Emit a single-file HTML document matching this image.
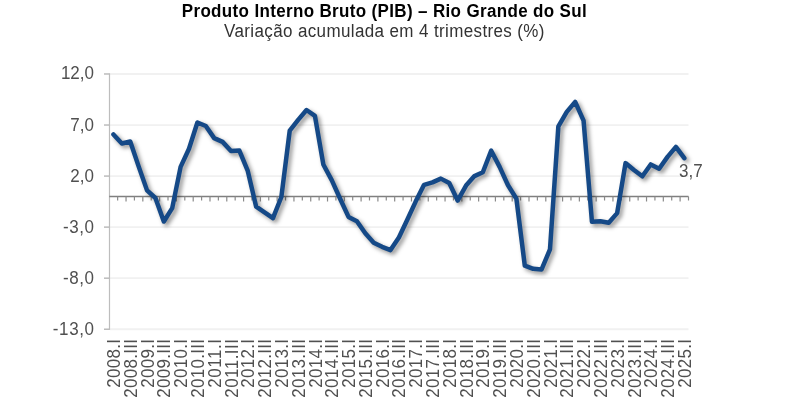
<!DOCTYPE html>
<html><head><meta charset="utf-8"><style>
html,body{margin:0;padding:0;background:#fff;width:800px;height:400px;overflow:hidden}
svg{position:absolute;left:0;top:0;display:block}
text{font-family:"Liberation Sans",sans-serif;font-size:17px;fill:#505050}
.t1{font-weight:bold;fill:#000}
.t2{fill:#333}
</style></head><body>
<svg width="800" height="400" viewBox="0 0 800 400">
<defs><filter id="blur" x="-10%" y="-10%" width="120%" height="120%"><feGaussianBlur stdDeviation="1.9"/></filter></defs>
<line x1="110.05" y1="73.98" x2="688.50" y2="73.98" stroke="#f1f1f1" stroke-width="1.8"/>
<line x1="104" y1="73.98" x2="109.85" y2="73.98" stroke="#bcbcbc" stroke-width="1.5"/>
<line x1="110.05" y1="125.03" x2="688.50" y2="125.03" stroke="#f1f1f1" stroke-width="1.8"/>
<line x1="104" y1="125.03" x2="109.85" y2="125.03" stroke="#bcbcbc" stroke-width="1.5"/>
<line x1="110.05" y1="176.08" x2="688.50" y2="176.08" stroke="#f1f1f1" stroke-width="1.8"/>
<line x1="104" y1="176.08" x2="109.85" y2="176.08" stroke="#bcbcbc" stroke-width="1.5"/>
<line x1="110.05" y1="227.13" x2="688.50" y2="227.13" stroke="#f1f1f1" stroke-width="1.8"/>
<line x1="104" y1="227.13" x2="109.85" y2="227.13" stroke="#bcbcbc" stroke-width="1.5"/>
<line x1="110.05" y1="278.18" x2="688.50" y2="278.18" stroke="#f1f1f1" stroke-width="1.8"/>
<line x1="104" y1="278.18" x2="109.85" y2="278.18" stroke="#bcbcbc" stroke-width="1.5"/>
<line x1="110.05" y1="329.23" x2="688.50" y2="329.23" stroke="#f1f1f1" stroke-width="1.8"/>
<line x1="104" y1="329.23" x2="109.85" y2="329.23" stroke="#bcbcbc" stroke-width="1.5"/>
<line x1="109.50" y1="73.48" x2="109.50" y2="329.73" stroke="#bdbdbd" stroke-width="1.2"/>
<line x1="109.25" y1="196.50" x2="688.50" y2="196.50" stroke="#7f7f7f" stroke-width="1.4"/>
<line x1="117.64" y1="196.50" x2="117.64" y2="200.50" stroke="#8a8a8a" stroke-width="1.2"/>
<line x1="126.04" y1="196.50" x2="126.04" y2="201.50" stroke="#8a8a8a" stroke-width="1.2"/>
<line x1="134.43" y1="196.50" x2="134.43" y2="200.50" stroke="#8a8a8a" stroke-width="1.2"/>
<line x1="142.83" y1="196.50" x2="142.83" y2="201.50" stroke="#8a8a8a" stroke-width="1.2"/>
<line x1="151.22" y1="196.50" x2="151.22" y2="200.50" stroke="#8a8a8a" stroke-width="1.2"/>
<line x1="159.62" y1="196.50" x2="159.62" y2="201.50" stroke="#8a8a8a" stroke-width="1.2"/>
<line x1="168.01" y1="196.50" x2="168.01" y2="200.50" stroke="#8a8a8a" stroke-width="1.2"/>
<line x1="176.41" y1="196.50" x2="176.41" y2="201.50" stroke="#8a8a8a" stroke-width="1.2"/>
<line x1="184.80" y1="196.50" x2="184.80" y2="200.50" stroke="#8a8a8a" stroke-width="1.2"/>
<line x1="193.20" y1="196.50" x2="193.20" y2="201.50" stroke="#8a8a8a" stroke-width="1.2"/>
<line x1="201.59" y1="196.50" x2="201.59" y2="200.50" stroke="#8a8a8a" stroke-width="1.2"/>
<line x1="209.99" y1="196.50" x2="209.99" y2="201.50" stroke="#8a8a8a" stroke-width="1.2"/>
<line x1="218.38" y1="196.50" x2="218.38" y2="200.50" stroke="#8a8a8a" stroke-width="1.2"/>
<line x1="226.78" y1="196.50" x2="226.78" y2="201.50" stroke="#8a8a8a" stroke-width="1.2"/>
<line x1="235.17" y1="196.50" x2="235.17" y2="200.50" stroke="#8a8a8a" stroke-width="1.2"/>
<line x1="243.57" y1="196.50" x2="243.57" y2="201.50" stroke="#8a8a8a" stroke-width="1.2"/>
<line x1="251.96" y1="196.50" x2="251.96" y2="200.50" stroke="#8a8a8a" stroke-width="1.2"/>
<line x1="260.36" y1="196.50" x2="260.36" y2="201.50" stroke="#8a8a8a" stroke-width="1.2"/>
<line x1="268.75" y1="196.50" x2="268.75" y2="200.50" stroke="#8a8a8a" stroke-width="1.2"/>
<line x1="277.15" y1="196.50" x2="277.15" y2="201.50" stroke="#8a8a8a" stroke-width="1.2"/>
<line x1="285.54" y1="196.50" x2="285.54" y2="200.50" stroke="#8a8a8a" stroke-width="1.2"/>
<line x1="293.94" y1="196.50" x2="293.94" y2="201.50" stroke="#8a8a8a" stroke-width="1.2"/>
<line x1="302.33" y1="196.50" x2="302.33" y2="200.50" stroke="#8a8a8a" stroke-width="1.2"/>
<line x1="310.73" y1="196.50" x2="310.73" y2="201.50" stroke="#8a8a8a" stroke-width="1.2"/>
<line x1="319.12" y1="196.50" x2="319.12" y2="200.50" stroke="#8a8a8a" stroke-width="1.2"/>
<line x1="327.52" y1="196.50" x2="327.52" y2="201.50" stroke="#8a8a8a" stroke-width="1.2"/>
<line x1="335.91" y1="196.50" x2="335.91" y2="200.50" stroke="#8a8a8a" stroke-width="1.2"/>
<line x1="344.31" y1="196.50" x2="344.31" y2="201.50" stroke="#8a8a8a" stroke-width="1.2"/>
<line x1="352.70" y1="196.50" x2="352.70" y2="200.50" stroke="#8a8a8a" stroke-width="1.2"/>
<line x1="361.10" y1="196.50" x2="361.10" y2="201.50" stroke="#8a8a8a" stroke-width="1.2"/>
<line x1="369.49" y1="196.50" x2="369.49" y2="200.50" stroke="#8a8a8a" stroke-width="1.2"/>
<line x1="377.89" y1="196.50" x2="377.89" y2="201.50" stroke="#8a8a8a" stroke-width="1.2"/>
<line x1="386.28" y1="196.50" x2="386.28" y2="200.50" stroke="#8a8a8a" stroke-width="1.2"/>
<line x1="394.68" y1="196.50" x2="394.68" y2="201.50" stroke="#8a8a8a" stroke-width="1.2"/>
<line x1="403.07" y1="196.50" x2="403.07" y2="200.50" stroke="#8a8a8a" stroke-width="1.2"/>
<line x1="411.47" y1="196.50" x2="411.47" y2="201.50" stroke="#8a8a8a" stroke-width="1.2"/>
<line x1="419.86" y1="196.50" x2="419.86" y2="200.50" stroke="#8a8a8a" stroke-width="1.2"/>
<line x1="428.26" y1="196.50" x2="428.26" y2="201.50" stroke="#8a8a8a" stroke-width="1.2"/>
<line x1="436.65" y1="196.50" x2="436.65" y2="200.50" stroke="#8a8a8a" stroke-width="1.2"/>
<line x1="445.05" y1="196.50" x2="445.05" y2="201.50" stroke="#8a8a8a" stroke-width="1.2"/>
<line x1="453.44" y1="196.50" x2="453.44" y2="200.50" stroke="#8a8a8a" stroke-width="1.2"/>
<line x1="461.84" y1="196.50" x2="461.84" y2="201.50" stroke="#8a8a8a" stroke-width="1.2"/>
<line x1="470.23" y1="196.50" x2="470.23" y2="200.50" stroke="#8a8a8a" stroke-width="1.2"/>
<line x1="478.63" y1="196.50" x2="478.63" y2="201.50" stroke="#8a8a8a" stroke-width="1.2"/>
<line x1="487.02" y1="196.50" x2="487.02" y2="200.50" stroke="#8a8a8a" stroke-width="1.2"/>
<line x1="495.42" y1="196.50" x2="495.42" y2="201.50" stroke="#8a8a8a" stroke-width="1.2"/>
<line x1="503.81" y1="196.50" x2="503.81" y2="200.50" stroke="#8a8a8a" stroke-width="1.2"/>
<line x1="512.21" y1="196.50" x2="512.21" y2="201.50" stroke="#8a8a8a" stroke-width="1.2"/>
<line x1="520.60" y1="196.50" x2="520.60" y2="200.50" stroke="#8a8a8a" stroke-width="1.2"/>
<line x1="529.00" y1="196.50" x2="529.00" y2="201.50" stroke="#8a8a8a" stroke-width="1.2"/>
<line x1="537.39" y1="196.50" x2="537.39" y2="200.50" stroke="#8a8a8a" stroke-width="1.2"/>
<line x1="545.79" y1="196.50" x2="545.79" y2="201.50" stroke="#8a8a8a" stroke-width="1.2"/>
<line x1="554.18" y1="196.50" x2="554.18" y2="200.50" stroke="#8a8a8a" stroke-width="1.2"/>
<line x1="562.58" y1="196.50" x2="562.58" y2="201.50" stroke="#8a8a8a" stroke-width="1.2"/>
<line x1="570.97" y1="196.50" x2="570.97" y2="200.50" stroke="#8a8a8a" stroke-width="1.2"/>
<line x1="579.37" y1="196.50" x2="579.37" y2="201.50" stroke="#8a8a8a" stroke-width="1.2"/>
<line x1="587.76" y1="196.50" x2="587.76" y2="200.50" stroke="#8a8a8a" stroke-width="1.2"/>
<line x1="596.16" y1="196.50" x2="596.16" y2="201.50" stroke="#8a8a8a" stroke-width="1.2"/>
<line x1="604.55" y1="196.50" x2="604.55" y2="200.50" stroke="#8a8a8a" stroke-width="1.2"/>
<line x1="612.95" y1="196.50" x2="612.95" y2="201.50" stroke="#8a8a8a" stroke-width="1.2"/>
<line x1="621.34" y1="196.50" x2="621.34" y2="200.50" stroke="#8a8a8a" stroke-width="1.2"/>
<line x1="629.74" y1="196.50" x2="629.74" y2="201.50" stroke="#8a8a8a" stroke-width="1.2"/>
<line x1="638.13" y1="196.50" x2="638.13" y2="200.50" stroke="#8a8a8a" stroke-width="1.2"/>
<line x1="646.53" y1="196.50" x2="646.53" y2="201.50" stroke="#8a8a8a" stroke-width="1.2"/>
<line x1="654.92" y1="196.50" x2="654.92" y2="200.50" stroke="#8a8a8a" stroke-width="1.2"/>
<line x1="663.32" y1="196.50" x2="663.32" y2="201.50" stroke="#8a8a8a" stroke-width="1.2"/>
<line x1="671.71" y1="196.50" x2="671.71" y2="200.50" stroke="#8a8a8a" stroke-width="1.2"/>
<line x1="680.11" y1="196.50" x2="680.11" y2="201.50" stroke="#8a8a8a" stroke-width="1.2"/>
<line x1="688.50" y1="196.50" x2="688.50" y2="200.50" stroke="#8a8a8a" stroke-width="1.2"/>
<polyline points="113.45,134.42 121.84,143.51 130.24,141.47 138.63,166.38 147.03,190.37 155.42,198.03 163.82,221.51 172.21,208.14 180.61,166.89 189.00,148.72 197.40,122.48 205.79,126.05 214.19,138.10 222.58,141.88 230.98,151.07 239.37,150.56 247.77,170.97 256.16,206.71 264.56,212.33 272.95,218.15 281.35,197.01 289.74,130.65 298.14,119.92 306.53,110.02 314.93,115.84 323.32,164.44 331.72,180.16 340.11,198.75 348.51,216.92 356.90,221.21 365.30,233.26 373.69,242.75 382.09,246.84 390.48,250.10 398.88,237.54 407.27,219.78 415.66,201.60 424.06,184.86 432.45,182.41 440.85,178.63 449.24,183.02 457.64,200.58 466.03,185.58 474.43,176.08 482.82,172.30 491.22,150.66 499.61,166.89 508.01,185.27 516.40,198.75 524.80,265.72 533.19,268.79 541.59,269.40 549.98,249.39 558.38,126.26 566.77,111.86 575.17,101.85 583.56,120.64 591.96,221.82 600.35,221.21 608.75,222.74 617.14,213.14 625.54,163.11 633.93,169.95 642.33,176.28 650.72,164.44 659.12,168.73 667.51,156.89 675.91,146.88 684.30,158.11" fill="none" stroke="#000" stroke-opacity="0.42" stroke-width="4.5" stroke-linejoin="round" stroke-linecap="round" filter="url(#blur)" transform="translate(2.6,2.6)"/>
<polyline points="113.45,134.42 121.84,143.51 130.24,141.47 138.63,166.38 147.03,190.37 155.42,198.03 163.82,221.51 172.21,208.14 180.61,166.89 189.00,148.72 197.40,122.48 205.79,126.05 214.19,138.10 222.58,141.88 230.98,151.07 239.37,150.56 247.77,170.97 256.16,206.71 264.56,212.33 272.95,218.15 281.35,197.01 289.74,130.65 298.14,119.92 306.53,110.02 314.93,115.84 323.32,164.44 331.72,180.16 340.11,198.75 348.51,216.92 356.90,221.21 365.30,233.26 373.69,242.75 382.09,246.84 390.48,250.10 398.88,237.54 407.27,219.78 415.66,201.60 424.06,184.86 432.45,182.41 440.85,178.63 449.24,183.02 457.64,200.58 466.03,185.58 474.43,176.08 482.82,172.30 491.22,150.66 499.61,166.89 508.01,185.27 516.40,198.75 524.80,265.72 533.19,268.79 541.59,269.40 549.98,249.39 558.38,126.26 566.77,111.86 575.17,101.85 583.56,120.64 591.96,221.82 600.35,221.21 608.75,222.74 617.14,213.14 625.54,163.11 633.93,169.95 642.33,176.28 650.72,164.44 659.12,168.73 667.51,156.89 675.91,146.88 684.30,158.11" fill="none" stroke="#154987" stroke-width="4.5" stroke-linejoin="round" stroke-linecap="round"/>
<g style="opacity:0.999"><text class="t1" transform="translate(181.75,16.5) scale(1,1.060)" textLength="405">Produto Interno Bruto (PIB) – Rio Grande do Sul</text>
<text class="t2" transform="translate(224,36.5) scale(1,1.060)" textLength="320.5">Variação acumulada em 4 trimestres (%)</text>
<text transform="translate(94,79.48) scale(1,1.030)" text-anchor="end">12,0</text>
<text transform="translate(94,130.53) scale(1,1.030)" text-anchor="end">7,0</text>
<text transform="translate(94,181.58) scale(1,1.030)" text-anchor="end">2,0</text>
<text transform="translate(94,232.63) scale(1,1.030)" text-anchor="end" textLength="31.00">-3,0</text>
<text transform="translate(94,283.68) scale(1,1.030)" text-anchor="end" textLength="31.00">-8,0</text>
<text transform="translate(94,334.73) scale(1,1.030)" text-anchor="end" textLength="41.20">-13,0</text>
<text transform="translate(120.05,339) rotate(-90) scale(1,1.030)" text-anchor="end" textLength="48.80">2008.I</text>
<text transform="translate(136.84,339) rotate(-90) scale(1,1.030)" text-anchor="end" textLength="58.80">2008.III</text>
<text transform="translate(153.63,339) rotate(-90) scale(1,1.030)" text-anchor="end" textLength="48.80">2009.I</text>
<text transform="translate(170.42,339) rotate(-90) scale(1,1.030)" text-anchor="end" textLength="58.80">2009.III</text>
<text transform="translate(187.21,339) rotate(-90) scale(1,1.030)" text-anchor="end" textLength="48.80">2010.I</text>
<text transform="translate(204.00,339) rotate(-90) scale(1,1.030)" text-anchor="end" textLength="58.80">2010.III</text>
<text transform="translate(220.79,339) rotate(-90) scale(1,1.030)" text-anchor="end" textLength="48.80">2011.I</text>
<text transform="translate(237.58,339) rotate(-90) scale(1,1.030)" text-anchor="end" textLength="58.80">2011.III</text>
<text transform="translate(254.37,339) rotate(-90) scale(1,1.030)" text-anchor="end" textLength="48.80">2012.I</text>
<text transform="translate(271.16,339) rotate(-90) scale(1,1.030)" text-anchor="end" textLength="58.80">2012.III</text>
<text transform="translate(287.95,339) rotate(-90) scale(1,1.030)" text-anchor="end" textLength="48.80">2013.I</text>
<text transform="translate(304.74,339) rotate(-90) scale(1,1.030)" text-anchor="end" textLength="58.80">2013.III</text>
<text transform="translate(321.53,339) rotate(-90) scale(1,1.030)" text-anchor="end" textLength="48.80">2014.I</text>
<text transform="translate(338.32,339) rotate(-90) scale(1,1.030)" text-anchor="end" textLength="58.80">2014.III</text>
<text transform="translate(355.11,339) rotate(-90) scale(1,1.030)" text-anchor="end" textLength="48.80">2015.I</text>
<text transform="translate(371.90,339) rotate(-90) scale(1,1.030)" text-anchor="end" textLength="58.80">2015.III</text>
<text transform="translate(388.69,339) rotate(-90) scale(1,1.030)" text-anchor="end" textLength="48.80">2016.I</text>
<text transform="translate(405.48,339) rotate(-90) scale(1,1.030)" text-anchor="end" textLength="58.80">2016.III</text>
<text transform="translate(422.26,339) rotate(-90) scale(1,1.030)" text-anchor="end" textLength="48.80">2017.I</text>
<text transform="translate(439.05,339) rotate(-90) scale(1,1.030)" text-anchor="end" textLength="58.80">2017.III</text>
<text transform="translate(455.84,339) rotate(-90) scale(1,1.030)" text-anchor="end" textLength="48.80">2018.I</text>
<text transform="translate(472.63,339) rotate(-90) scale(1,1.030)" text-anchor="end" textLength="58.80">2018.III</text>
<text transform="translate(489.42,339) rotate(-90) scale(1,1.030)" text-anchor="end" textLength="48.80">2019.I</text>
<text transform="translate(506.21,339) rotate(-90) scale(1,1.030)" text-anchor="end" textLength="58.80">2019.III</text>
<text transform="translate(523.00,339) rotate(-90) scale(1,1.030)" text-anchor="end" textLength="48.80">2020.I</text>
<text transform="translate(539.79,339) rotate(-90) scale(1,1.030)" text-anchor="end" textLength="58.80">2020.III</text>
<text transform="translate(556.58,339) rotate(-90) scale(1,1.030)" text-anchor="end" textLength="48.80">2021.I</text>
<text transform="translate(573.37,339) rotate(-90) scale(1,1.030)" text-anchor="end" textLength="58.80">2021.III</text>
<text transform="translate(590.16,339) rotate(-90) scale(1,1.030)" text-anchor="end" textLength="48.80">2022.I</text>
<text transform="translate(606.95,339) rotate(-90) scale(1,1.030)" text-anchor="end" textLength="58.80">2022.III</text>
<text transform="translate(623.74,339) rotate(-90) scale(1,1.030)" text-anchor="end" textLength="48.80">2023.I</text>
<text transform="translate(640.53,339) rotate(-90) scale(1,1.030)" text-anchor="end" textLength="58.80">2023.III</text>
<text transform="translate(657.32,339) rotate(-90) scale(1,1.030)" text-anchor="end" textLength="48.80">2024.I</text>
<text transform="translate(674.11,339) rotate(-90) scale(1,1.030)" text-anchor="end" textLength="58.80">2024.III</text>
<text transform="translate(690.90,339) rotate(-90) scale(1,1.030)" text-anchor="end" textLength="48.80">2025.I</text>
<text transform="translate(679,177) scale(1,1.030)">3,7</text></g>
</svg>
</body></html>
